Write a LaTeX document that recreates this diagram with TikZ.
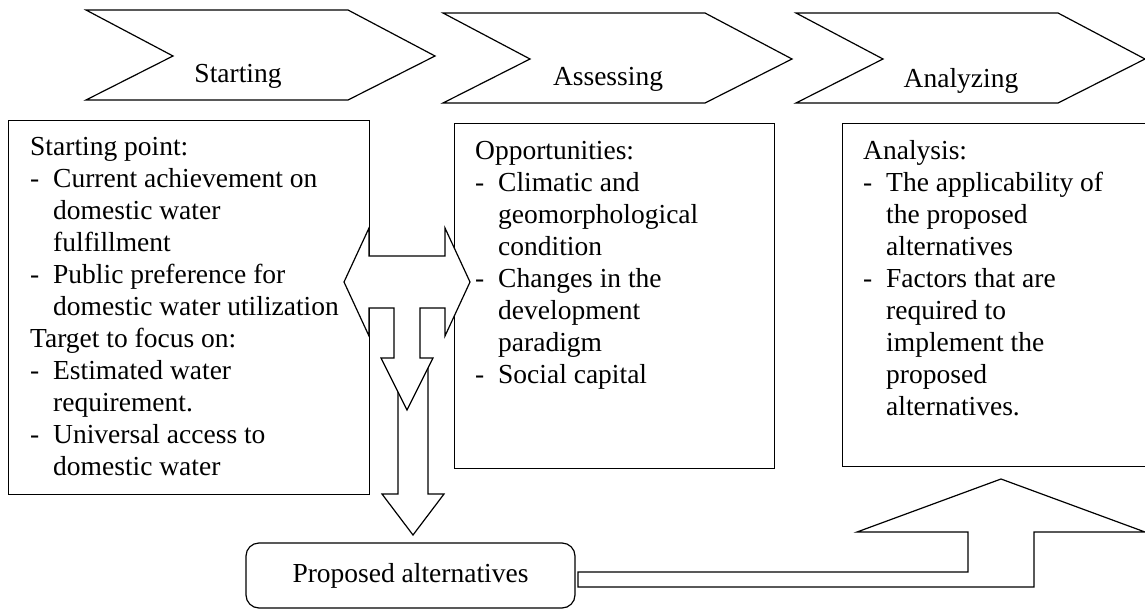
\documentclass[tikz,border=0pt]{standalone}
\usepackage{fontspec}
\setmainfont{Liberation Serif}

% dash and hanging indent for the list lines
\newcommand{\dashitem}{\makebox[23pt][l]{-}}
\newcommand{\dashcont}{\hspace*{23pt}}

\tikzset{
  outline/.style={draw, line width=1.2pt, line join=miter},
  panel/.style={outline, anchor=north west, inner sep=0pt},
  items/.style={anchor=north west, align=left, inner sep=0pt},
}

\begin{document}
\begin{tikzpicture}[x=1pt, y=-1pt, font=\fontsize{27.5}{32}\selectfont]
  \useasboundingbox (0,0) rectangle (1145,610);

  % stage chevrons
  \foreach \x/\y/\tx/\ty/\name/\lbl in {86/10/238/82/start/Starting, 443/13/608/85/assess/Assessing, 796/13/961/88/analyze/Analyzing}{
    \draw[outline] (\x,\y) -- ++(262,0) -- ++(87,46) -- ++(-87,44) -- ++(-262,0) -- ++(87,-44) -- cycle;
    \node[anchor=base] (\name) at (\tx,\ty) {\lbl};
  }

  % panels under the stages
  \node[panel, minimum width=361pt, minimum height=374pt] (startbox) at (8,120) {};
  \node[items] (starttext) at ([xshift=22pt, yshift=-17pt]startbox.north west) {Starting point:\\
    \dashitem Current achievement on\\ \dashcont domestic water\\ \dashcont fulfillment\\
    \dashitem Public preference for\\ \dashcont domestic water utilization\\
    Target to focus on:\\
    \dashitem Estimated water\\ \dashcont requirement.\\
    \dashitem Universal access to\\ \dashcont domestic water};

  \node[panel, minimum width=320pt, minimum height=345pt] (assessbox) at (454,123) {};
  \node[items] (assesstext) at ([xshift=21pt, yshift=-18pt]assessbox.north west) {Opportunities:\\
    \dashitem Climatic and\\ \dashcont geomorphological\\ \dashcont condition\\
    \dashitem Changes in the\\ \dashcont development\\ \dashcont paradigm\\
    \dashitem Social capital};

  \node[panel, minimum width=306pt, minimum height=343pt] (analyzebox) at (842,123) {};
  \node[items] (analyzetext) at ([xshift=21pt, yshift=-17pt]analyzebox.north west) {Analysis:\\
    \dashitem The applicability of\\ \dashcont the proposed\\ \dashcont alternatives\\
    \dashitem Factors that are\\ \dashcont required to\\ \dashcont implement the\\ \dashcont proposed\\ \dashcont alternatives.};

  \node[outline, rounded corners=13pt, minimum width=329pt, minimum height=65pt, inner sep=0pt] (alt) at (410.5,575.5) {Proposed alternatives};

  % arrow down to the alternatives (its top sits under the branch head)
  \draw[outline, fill=white] (398,365) -- (398,494) -- (382,494) -- (413,535) -- (444,494) -- (428,494) -- (428,365) -- cycle;

  % two-way arrow between the panels, with a branch going down
  \draw[outline, fill=white] (344,282) -- (369,228) -- (369,256) -- (445,256) -- (445,228) -- (470,282)
    -- (445,336) -- (445,308) -- (420,308) -- (420,358) -- (433,358) -- (407,410) -- (381,358)
    -- (394,358) -- (394,308) -- (369,308) -- (369,336) -- cycle;

  % bent arrow back up to the analysis panel
  \draw[outline, fill=white] (578,572) -- (968,572) -- (968,532) -- (857,532) -- (1001,479) -- (1145,532)
    -- (1034,532) -- (1034,587) -- (578,587) -- cycle;
\end{tikzpicture}
\end{document}
